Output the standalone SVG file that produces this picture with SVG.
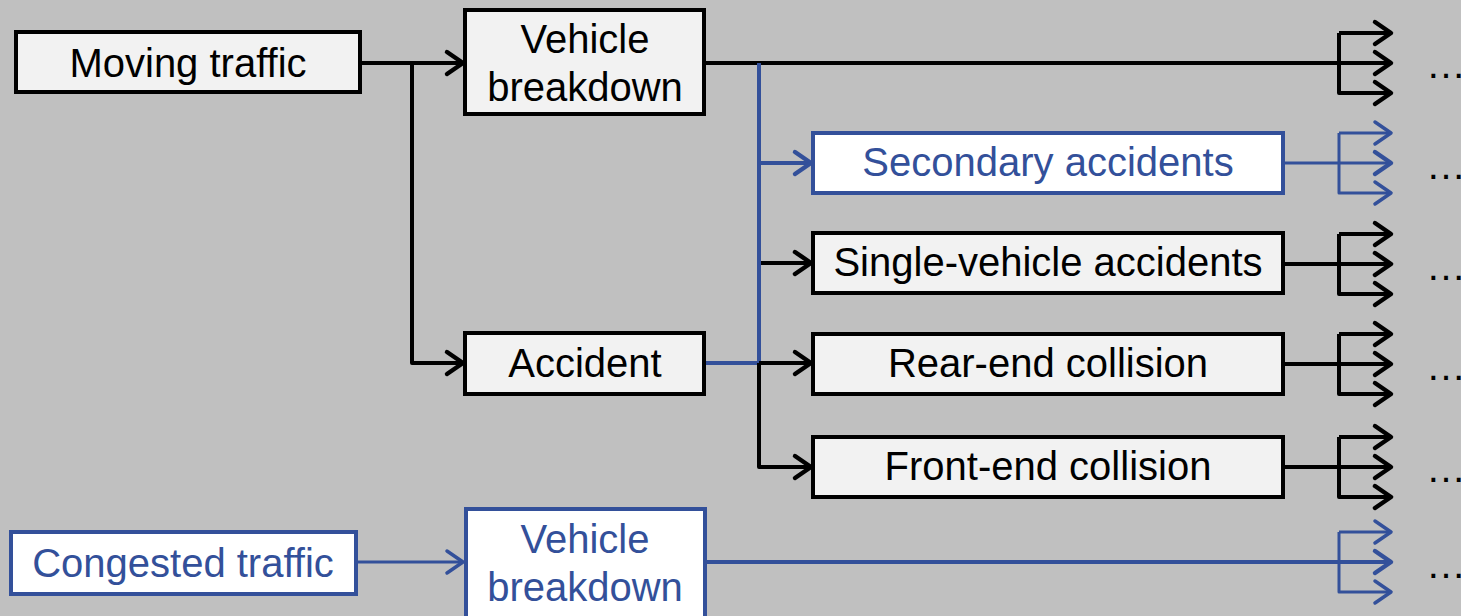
<svg xmlns="http://www.w3.org/2000/svg" width="1461" height="616" viewBox="0 0 1461 616">
  <style>
    .box { fill: #F2F2F2; stroke: #000; stroke-width: 4; }
    .bbox { fill: #FFFFFF; stroke: #33509A; stroke-width: 4; }
    .lbl { font-family: "Liberation Sans", Arial, sans-serif; font-size: 40px; fill: #000; text-anchor: middle; }
    .blbl { fill: #33509A; }
    .k { fill: none; stroke: #000; stroke-width: 4; stroke-linejoin: round; }
    .kb { fill: none; stroke: #33509A; stroke-width: 4; stroke-linejoin: round; }
    .kb3 { fill: none; stroke: #33509A; stroke-width: 3; stroke-linejoin: round; }
    .dots { font-family: "Liberation Sans", Arial, sans-serif; font-size: 40px; fill: #000; }
  </style>
  <defs>
    <marker id="ak" markerUnits="userSpaceOnUse" markerWidth="30" markerHeight="30" viewBox="-20 -15 24 30" refX="0" refY="0" orient="auto">
      <path d="M -16 -11 L 0 0 L -16 11" fill="none" stroke="#000" stroke-width="4.5" stroke-linecap="round" stroke-linejoin="round"/>
    </marker>
    <marker id="ab" markerUnits="userSpaceOnUse" markerWidth="30" markerHeight="30" viewBox="-20 -15 24 30" refX="0" refY="0" orient="auto">
      <path d="M -16 -11 L 0 0 L -16 11" fill="none" stroke="#33509A" stroke-width="4.5" stroke-linecap="round" stroke-linejoin="round"/>
    </marker>
    <marker id="ab3" markerUnits="userSpaceOnUse" markerWidth="30" markerHeight="30" viewBox="-20 -15 24 30" refX="0" refY="0" orient="auto">
      <path d="M -16 -11 L 0 0 L -16 11" fill="none" stroke="#33509A" stroke-width="3.5" stroke-linecap="round" stroke-linejoin="round"/>
    </marker>
  </defs>

  <rect width="1461" height="616" fill="#C0C0C0"/>

  <g id="connectors">
    <!-- moving traffic to breakdown / accident -->
    <path class="k" d="M 360 63 L 463 63" marker-end="url(#ak)"/>
    <path class="k" d="M 412 63 L 412 363 L 463 363" marker-end="url(#ak)"/>
    <!-- breakdown straight through -->
    <path class="k" d="M 703 63 L 1391 63" marker-end="url(#ak)"/>
    <!-- blue trunk from breakdown and accident -->
    <path class="kb" d="M 759 63 L 759 363"/>
    <path class="kb" d="M 705 363 L 759 363"/>
    <path class="kb" d="M 759 163 L 811 163" marker-end="url(#ab)"/>
    <!-- black trunk for accident types -->
    <path class="k" d="M 761 263 L 811 263" marker-end="url(#ak)"/>
    <path class="k" d="M 759 363 L 811 363" marker-end="url(#ak)"/>
    <path class="k" d="M 759 363 L 759 467 L 811 467" marker-end="url(#ak)"/>

    <!-- right-hand forks -->
    <path class="k" d="M 1339 33 L 1339 93 L 1391 93" marker-end="url(#ak)"/>
    <path class="k" d="M 1339 33 L 1391 33" marker-end="url(#ak)"/>

    <path class="kb3" d="M 1283 163 L 1391 163" marker-end="url(#ab)"/>
    <path class="kb3" d="M 1339 133 L 1339 193 L 1391 193" marker-end="url(#ab3)"/>
    <path class="kb3" d="M 1339 133 L 1391 133" marker-end="url(#ab3)"/>

    <path class="k" d="M 1283 264 L 1391 264" marker-end="url(#ak)"/>
    <path class="k" d="M 1339 234 L 1339 294 L 1391 294" marker-end="url(#ak)"/>
    <path class="k" d="M 1339 234 L 1391 234" marker-end="url(#ak)"/>

    <path class="k" d="M 1283 364 L 1391 364" marker-end="url(#ak)"/>
    <path class="k" d="M 1339 334 L 1339 394 L 1391 394" marker-end="url(#ak)"/>
    <path class="k" d="M 1339 334 L 1391 334" marker-end="url(#ak)"/>

    <path class="k" d="M 1283 467 L 1391 467" marker-end="url(#ak)"/>
    <path class="k" d="M 1339 437 L 1339 497 L 1391 497" marker-end="url(#ak)"/>
    <path class="k" d="M 1339 437 L 1391 437" marker-end="url(#ak)"/>

    <!-- congested traffic path -->
    <path class="kb3" d="M 356 562 L 463 562" marker-end="url(#ab3)"/>
    <path class="kb" d="M 705 562 L 1391 562" marker-end="url(#ab)"/>
    <path class="kb3" d="M 1339 532 L 1339 592 L 1391 592" marker-end="url(#ab3)"/>
    <path class="kb3" d="M 1339 532 L 1391 532" marker-end="url(#ab3)"/>
  </g>

  <g id="moving-traffic">
    <rect class="box" x="16" y="32" width="344" height="60"/>
    <text class="lbl" x="188" y="77">Moving traffic</text>
  </g>
  <g id="vehicle-breakdown">
    <rect class="box" x="465" y="10" width="239" height="104"/>
    <text class="lbl" x="585" y="53">Vehicle</text>
    <text class="lbl" x="585" y="101">breakdown</text>
  </g>
  <g id="accident">
    <rect class="box" x="465" y="333" width="239" height="61"/>
    <text class="lbl" x="585" y="377">Accident</text>
  </g>
  <g id="secondary-accidents">
    <rect class="bbox" x="813" y="133" width="470" height="60"/>
    <text class="lbl blbl" x="1048" y="176">Secondary accidents</text>
  </g>
  <g id="single-vehicle-accidents">
    <rect class="box" x="813" y="233" width="470" height="60"/>
    <text class="lbl" x="1048" y="276">Single-vehicle accidents</text>
  </g>
  <g id="rear-end-collision">
    <rect class="box" x="813" y="334" width="470" height="60"/>
    <text class="lbl" x="1048" y="377">Rear-end collision</text>
  </g>
  <g id="front-end-collision">
    <rect class="box" x="813" y="437" width="470" height="60"/>
    <text class="lbl" x="1048" y="480">Front-end collision</text>
  </g>
  <g id="congested-traffic">
    <rect class="bbox" x="11" y="532" width="345" height="62"/>
    <text class="lbl blbl" x="183" y="577">Congested traffic</text>
  </g>
  <g id="vehicle-breakdown-congested">
    <rect class="bbox" x="466" y="509" width="239" height="115"/>
    <text class="lbl blbl" x="585" y="553">Vehicle</text>
    <text class="lbl blbl" x="585" y="601">breakdown</text>
  </g>

  <g id="continuations">
    <text class="dots" x="1426" y="78">…</text>
    <text class="dots" x="1426" y="179">…</text>
    <text class="dots" x="1426" y="280">…</text>
    <text class="dots" x="1426" y="380">…</text>
    <text class="dots" x="1426" y="482">…</text>
    <text class="dots" x="1426" y="578">…</text>
  </g>
</svg>
